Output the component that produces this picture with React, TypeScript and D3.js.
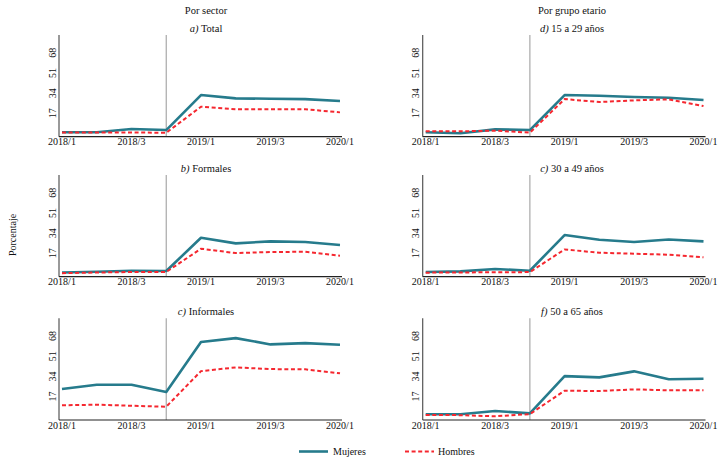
import { line, scaleLinear, scalePoint } from 'd3';
import React from 'react';

const WIDTH = 724;
const HEIGHT = 463;
const FONT = '"Liberation Serif", "DejaVu Serif", serif';
const TEAL = '#267b8c';
const RED = '#f5272f';

const quarters = ['2018/1', '2018/2', '2018/3', '2018/4', '2019/1', '2019/2', '2019/3', '2019/4', '2020/1'];
const tickQuarters = ['2018/1', '2018/3', '2019/1', '2019/3', '2020/1'];
const yTicks = [17, 34, 51, 68];
const breakQuarter = '2018/4';

const columnTitles = ['Por sector', 'Por grupo etario'];

// por sector
const totalMujeres = [1.0, 1.0, 3.8, 2.9, 32.4, 29.6, 29.3, 29.0, 27.4];
const totalHombres = [0.8, 0.8, 0.9, 0.6, 22.6, 20.4, 20.4, 20.4, 17.8];
const formalesMujeres = [0.9, 1.5, 2.3, 2.1, 30.1, 25.4, 27.1, 26.5, 24.0];
const formalesHombres = [0.3, 0.8, 1.3, 1.3, 20.9, 17.2, 18.1, 18.3, 15.0];
const informalesMujeres = [23.4, 27.0, 27.0, 20.9, 63.0, 66.3, 61.0, 62.1, 60.7];
const informalesHombres = [9.7, 10.2, 9.3, 8.5, 38.5, 41.6, 40.2, 40.0, 36.6];

// por grupo etario
const jovenesMujeres = [1.0, 0.2, 3.5, 2.9, 32.4, 31.8, 30.7, 30.1, 28.2];
const jovenesHombres = [1.8, 1.8, 2.4, 0.7, 29.0, 26.5, 27.9, 28.8, 23.1];
const adultosMujeres = [1.2, 1.8, 3.8, 2.3, 32.4, 28.4, 26.5, 28.7, 27.1];
const adultosHombres = [0.7, 0.9, 1.0, 1.2, 20.3, 17.5, 16.7, 15.8, 13.6];
const mayoresMujeres = [2.1, 2.1, 4.9, 2.9, 34.3, 33.2, 38.3, 31.6, 32.1];
const mayoresHombres = [1.5, 1.4, 0.4, 2.3, 22.0, 21.7, 23.1, 22.3, 22.3];

const panels = [
  { letter: 'a)', name: 'Total', col: 0, row: 0, mujeres: totalMujeres, hombres: totalHombres },
  { letter: 'b)', name: 'Formales', col: 0, row: 1, mujeres: formalesMujeres, hombres: formalesHombres },
  { letter: 'c)', name: 'Informales', col: 0, row: 2, mujeres: informalesMujeres, hombres: informalesHombres },
  { letter: 'd)', name: '15 a 29 años', col: 1, row: 0, mujeres: jovenesMujeres, hombres: jovenesHombres },
  { letter: 'c)', name: '30 a 49 años', col: 1, row: 1, mujeres: adultosMujeres, hombres: adultosHombres },
  { letter: 'f)', name: '50 a 65 años', col: 1, row: 2, mujeres: mayoresMujeres, hombres: mayoresHombres },
];

// layout
const COL_LEFT = [59, 422.7];
const COL_RIGHT = [342, 705.5];
const COL_CENTER = [206, 572];
const ROW_TOP = [35, 175, 318.3];
const PLOT_H = 101.7;

const Panel = ({ p }: { p: (typeof panels)[number] }) => {
  const left = COL_LEFT[p.col];
  const right = COL_RIGHT[p.col];
  const top = ROW_TOP[p.row];
  const bottom = top + PLOT_H;

  const x = scalePoint<string>().domain(quarters).range([left + 3, right - 2]);
  const y = scaleLinear().domain([-2.7, 83]).range([bottom, top]);
  const path = line<number>()
    .x((_, i) => x(quarters[i]) ?? 0)
    .y((d) => y(d));

  const bx = x(breakQuarter) ?? 0;

  return (
    <g>
      <text x={COL_CENTER[p.col]} y={top - 3} textAnchor="middle" fontSize={10.5}>
        <tspan fontStyle="italic">{p.letter}</tspan> {p.name}
      </text>
      <line x1={bx} x2={bx} y1={top} y2={bottom} stroke="#a8a8a8" strokeWidth={1.2} />
      <line x1={left} x2={left} y1={top} y2={bottom} stroke="#555" strokeWidth={1.2} />
      <line x1={left} x2={right} y1={bottom} y2={bottom} stroke="#222" strokeWidth={1.2} />
      {yTicks.map((t) => (
        <text
          key={t}
          transform={`translate(${left - 7},${y(t)}) rotate(-90)`}
          dy="0.35em"
          textAnchor="middle"
          fontSize={10}
        >
          {t}
        </text>
      ))}
      {tickQuarters.map((q) => (
        <text key={q} x={x(q)} y={bottom + 8.6} textAnchor="middle" fontSize={10}>
          {q}
        </text>
      ))}
      <path d={path(p.mujeres) ?? ''} fill="none" stroke={TEAL} strokeWidth={2.6} strokeLinejoin="round" />
      <path d={path(p.hombres) ?? ''} fill="none" stroke={RED} strokeWidth={2} strokeDasharray="4 2.6" />
    </g>
  );
};

const App = () => {
  return (
    <svg
      width={WIDTH}
      height={HEIGHT}
      viewBox={`0 0 ${WIDTH} ${HEIGHT}`}
      style={{ position: 'absolute', left: 0, top: 0, background: '#fff' }}
      fontFamily={FONT}
      fill="#111"
    >
      {columnTitles.map((t, i) => (
        <text key={t} x={COL_CENTER[i]} y={14} textAnchor="middle" fontSize={10.5}>
          {t}
        </text>
      ))}
      <text transform="translate(12,235) rotate(-90)" dy="0.35em" textAnchor="middle" fontSize={10}>
        Porcentaje
      </text>
      {panels.map((p) => (
        <Panel key={p.name} p={p} />
      ))}
      <line x1={299} x2={328} y1={451.5} y2={451.5} stroke={TEAL} strokeWidth={2.6} />
      <text x={333} y={455} fontSize={10}>
        Mujeres
      </text>
      <line x1={405} x2={434} y1={451.5} y2={451.5} stroke={RED} strokeWidth={2} strokeDasharray="4 2.6" />
      <text x={438} y={455} fontSize={10}>
        Hombres
      </text>
    </svg>
  );
};

export default App;
